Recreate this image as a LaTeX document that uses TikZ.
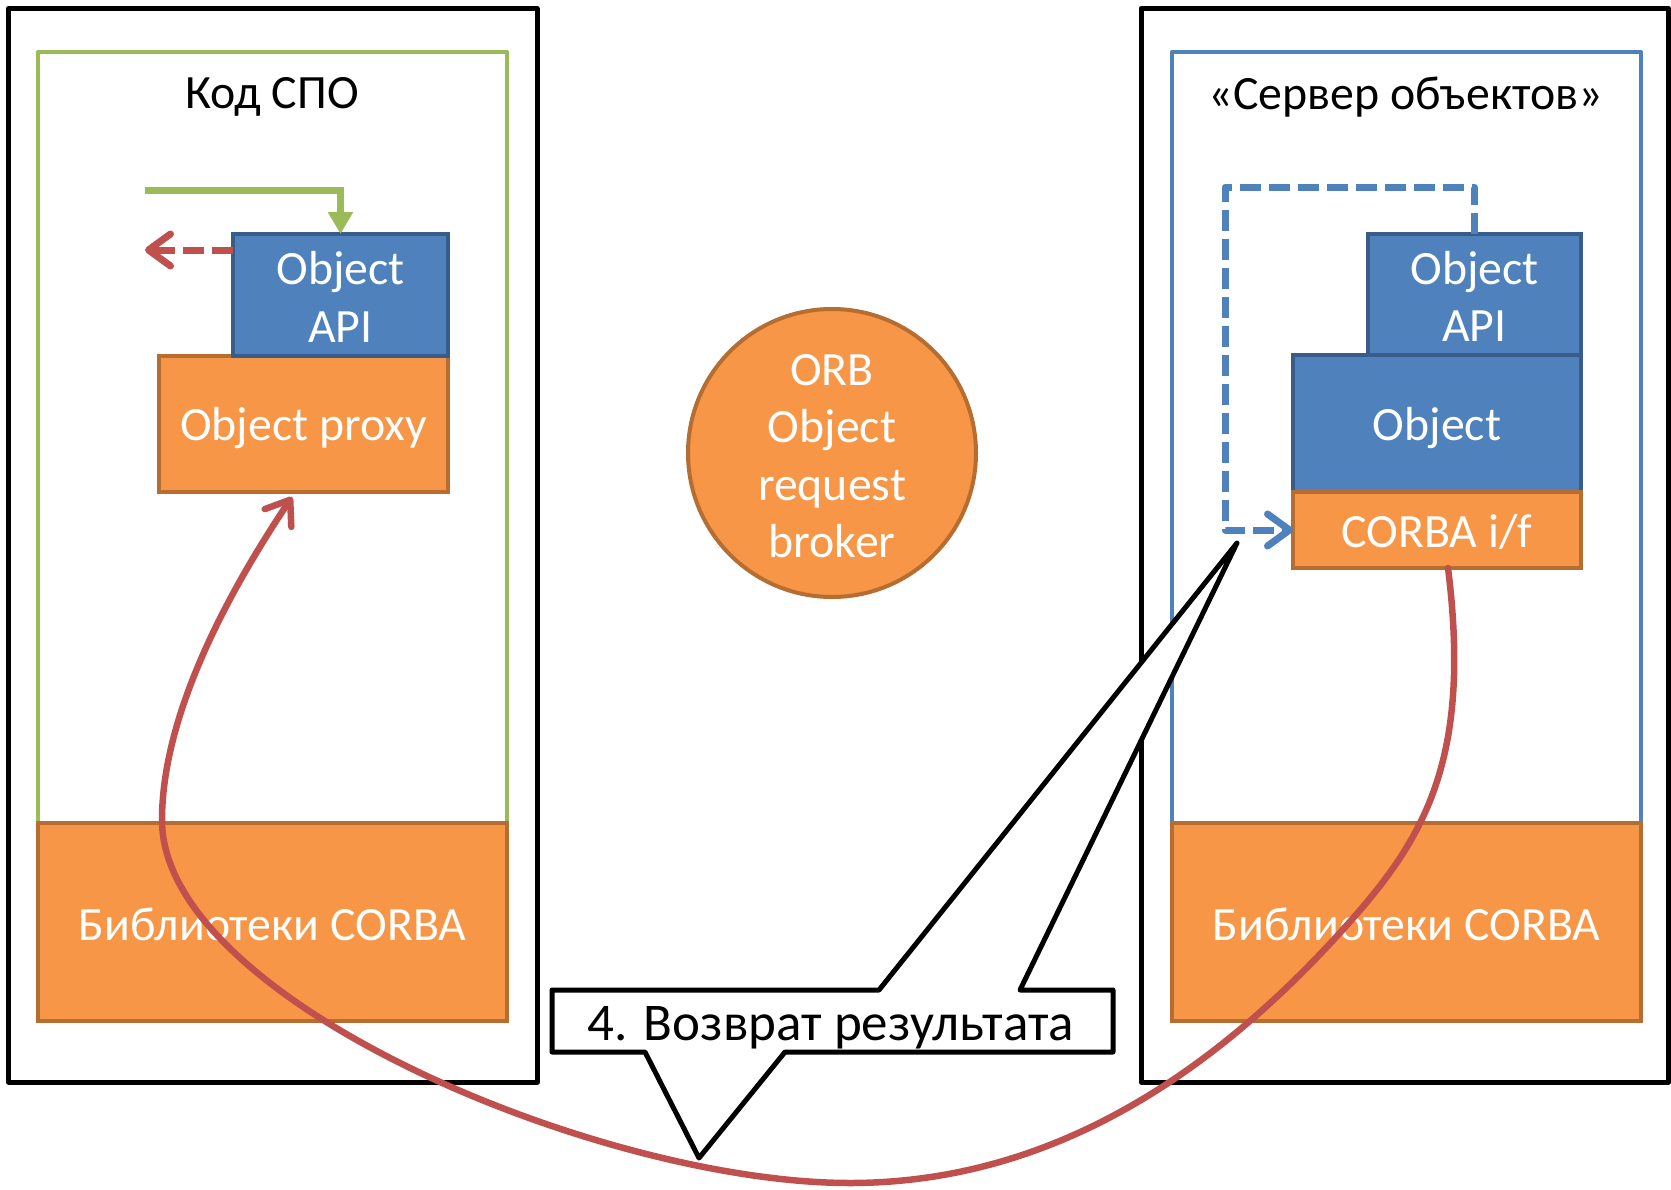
\documentclass[tikz,border=0pt]{standalone}
\usepackage{fontspec}
\setmainfont{Carlito}
\usetikzlibrary{arrows.meta}
\definecolor{ofill}{HTML}{F79646}
\definecolor{oline}{HTML}{B66D31}
\definecolor{bfill}{HTML}{4F81BD}
\definecolor{bline}{HTML}{385D8A}
\definecolor{gline}{HTML}{9BBB59}
\definecolor{rline}{HTML}{C0504D}
\newcommand\lblfont{\fontsize{47.8}{57.5}\selectfont}
\newcommand\calloutfont{\fontsize{53}{60}\selectfont}
\begin{document}
\begin{tikzpicture}[x=1pt,y=-1pt,
  outerframe/.style={draw=black,line width=5pt,line join=round},
  innerframe/.style={line width=4pt,line join=round},
  block/.style={rectangle,line width=4pt,inner sep=0pt,outer sep=0pt},
  blocktext/.style={text=white,font=\lblfont,align=center,inner sep=0pt,yshift=-4pt},
  orangeblock/.style={block,draw=oline,fill=ofill},
  blueblock/.style={block,draw=bline,fill=bfill},
  caption/.style={font=\lblfont,text=black,inner sep=0pt},
  openhead/.style={-{Straight Barb[length=22pt,width=32pt,round]}},
  greenarrow/.style={draw=gline,line width=7pt,
    -{Triangle[length=22pt,width=24pt]}},
  reddash/.style={draw=rline,line width=7pt,dash pattern=on 21pt off 8pt,openhead},
  bluedash/.style={draw=bfill,line width=7pt,dash pattern=on 21pt off 8pt,
    line join=round,openhead},
  redcurve/.style={draw=rline,line width=6.5pt,line cap=round,openhead},
  callout/.style={draw=black,fill=white,line width=5pt,line join=round}]
\useasboundingbox (0,0) rectangle (1671,1189);

% client side
\draw[outerframe] (8.5,8.5) rectangle (537,1082);
\draw[innerframe,draw=gline] (38,52) rectangle (507,1021);
\node[caption] (ltitle) at (272,97) {Код СПО};
\node[orangeblock,minimum width=469pt,minimum height=198pt,
  label={[blocktext,yshift=2pt]center:Библиотеки CORBA}] (llib) at (272.5,922) {};
\node[orangeblock,minimum width=289pt,minimum height=136pt,
  label={[blocktext]center:Object proxy}] (proxy) at (303.5,424) {};
\node[blueblock,minimum width=215pt,minimum height=122pt,
  label={[blocktext,yshift=2pt]center:Object\\API}] (lapi) at (340.5,295) {};

% server side
\draw[outerframe] (1141,8.5) rectangle (1668.5,1082);
\draw[innerframe,draw=bfill] (1172,52) rectangle (1641,1021);
\node[caption] (rtitle) at (1406,97) {«Сервер объектов»};
\node[orangeblock,minimum width=469pt,minimum height=198pt,
  label={[blocktext,yshift=2pt]center:Библиотеки CORBA}] (rlib) at (1406.5,922) {};
\node[blueblock,minimum width=213pt,minimum height=121pt,
  label={[blocktext,yshift=2pt]center:Object\\API}] (rapi) at (1474.5,294.5) {};
\node[blueblock,minimum width=288pt,minimum height=137pt,
  label={[blocktext]center:Object}] (obj) at (1437,423.5) {};
\node[orangeblock,minimum width=288pt,minimum height=76pt,
  label={[blocktext,yshift=2pt]center:CORBA i/f}] (corba) at (1437,530) {};

% broker
\node[circle,draw=oline,fill=ofill,line width=4pt,minimum size=288pt,inner sep=0pt,
  label={[blocktext,yshift=1pt]center:ORB\\Object\\request\\broker}] (orb) at (832,453) {};

% calls inside the client and the server
\coordinate (gstart) at (145,190);
\draw[greenarrow] (gstart) -| (lapi.north);
\coordinate (rdend) at (145,250);
\draw[reddash] ([yshift=45pt]lapi.west) -- (rdend);
\coordinate (bturn) at (1225,187);
\draw[bluedash] (rapi.north) |- (bturn) |- (corba.west);

% callout
\coordinate (tipup) at (1237,543);
\coordinate (tipdown) at (699,1158);
\draw[callout] (552,990) -- (879,990) -- (tipup) -- (1020,990) -- (1113,990)
  -- (1113,1052) -- (785,1052) -- (tipdown) -- (645,1052) -- (552,1052) -- cycle;
\node[font=\calloutfont,inner sep=0pt,anchor=base] (ctext) at (831,1040) {4. Возврат результата};

% result travelling back
\coordinate (rstart) at ([xshift=11pt]corba.south);
\coordinate (rend) at ([xshift=-11.5pt,yshift=-5pt]proxy.south);
\draw[redcurve] (rstart) .. controls (1472,760) and (1424,839) .. (1347,925)
  .. controls (1213,1075) and (1050,1183) .. (850,1183)
  .. controls (600,1183) and (162,1000) .. (162,820)
  .. controls (162,700) and (248,563) .. (rend);
\end{tikzpicture}
\end{document}
